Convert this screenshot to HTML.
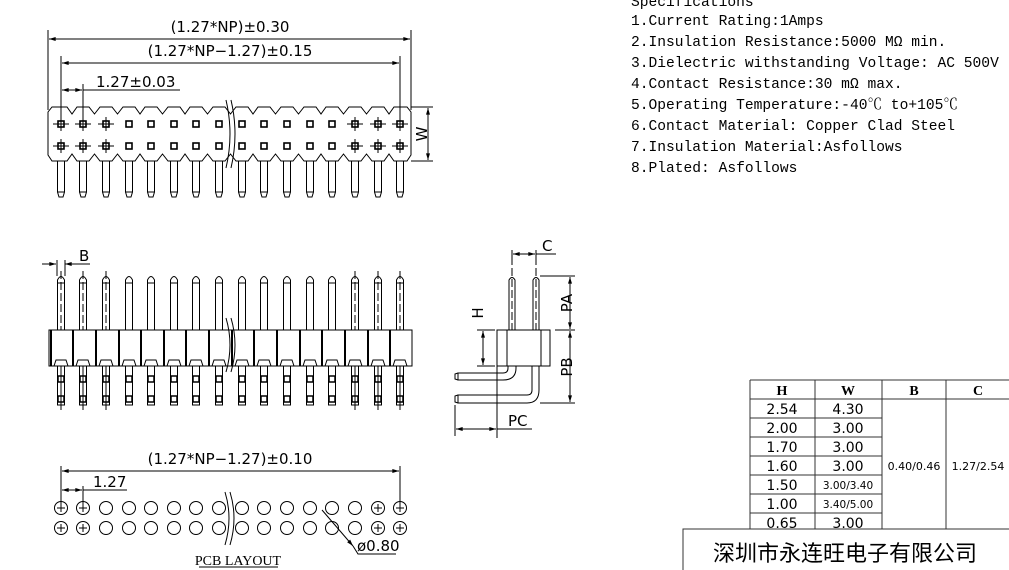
<!DOCTYPE html>
<html><head><meta charset="utf-8"><style>
html,body{margin:0;padding:0;background:#fff;width:1009px;height:570px;overflow:hidden}
svg{display:block}
text{fill:#000;stroke:none}
.t{font-family:"DejaVu Sans","Liberation Sans",sans-serif;font-size:15px;fill:#000}
.s{font-family:"Liberation Mono","Noto Serif CJK SC",monospace;font-size:14.6px;fill:#000}
</style></head><body>
<svg id="g" width="1009" height="570" viewBox="0 0 1009 570" xmlns="http://www.w3.org/2000/svg" fill="none" stroke="#000" stroke-width="1">
<defs>
<marker id="a" viewBox="0 0 10 6" refX="10" refY="3" markerWidth="8" markerHeight="4" orient="auto-start-reverse"><path d="M0,0L10,3L0,6z" fill="#000" stroke="none"/></marker>
</defs>
<line x1="48" y1="30" x2="48" y2="110"/><line x1="411" y1="30" x2="411" y2="110"/>
<line x1="49" y1="39" x2="410" y2="39" marker-start="url(#a)" marker-end="url(#a)"/>
<line x1="61" y1="56" x2="61" y2="120"/><line x1="400" y1="56" x2="400" y2="120"/>
<line x1="62" y1="63" x2="399" y2="63" marker-start="url(#a)" marker-end="url(#a)"/>
<line x1="83" y1="84" x2="83" y2="120"/>
<line x1="62" y1="90" x2="82" y2="90" marker-start="url(#a)" marker-end="url(#a)"/>
<line x1="83" y1="90" x2="180" y2="90"/>
<g stroke="none">
<text class="t" x="230" y="32" text-anchor="middle">(1.27*NP)±0.30</text>
<text class="t" x="230" y="56" text-anchor="middle">(1.27*NP−1.27)±0.15</text>
<text class="t" x="96" y="87">1.27±0.03</text>
<text class="t" x="427" y="134" font-size="8" transform="rotate(-90 427 134)" text-anchor="middle">W</text>
</g>
<line x1="411" y1="107" x2="433" y2="107"/><line x1="411" y1="161" x2="433" y2="161"/>
<line x1="428" y1="108" x2="428" y2="160" marker-start="url(#a)" marker-end="url(#a)"/>
<g id="top"></g>
<line x1="42" y1="264" x2="56" y2="264" marker-end="url(#a)"/>
<line x1="73" y1="264" x2="65" y2="264" marker-end="url(#a)"/>
<line x1="65" y1="264" x2="90" y2="264"/>
<line x1="57" y1="260" x2="57" y2="276"/><line x1="65" y1="260" x2="65" y2="276"/>
<text class="t" x="79" y="261">B</text>
<rect x="49" y="330" width="363" height="36"/>
<g id="side"></g>
<rect x="497" y="330" width="53" height="36"/>
<line x1="507" y1="330" x2="507" y2="366"/><line x1="541" y1="330" x2="541" y2="366"/>
<path d="M509,330V280Q512,275 515,280V330M533,330V280Q536,275 539,280V330"/>
<line x1="512" y1="268" x2="512" y2="330" stroke-dasharray="8,3"/>
<line x1="536" y1="268" x2="536" y2="330" stroke-dasharray="8,3"/>
<line x1="512" y1="250" x2="512" y2="265"/><line x1="536" y1="250" x2="536" y2="265"/>
<line x1="513" y1="254" x2="535" y2="254" marker-start="url(#a)" marker-end="url(#a)"/>
<line x1="536" y1="254" x2="556" y2="254"/>
<text class="t" x="542" y="251">C</text>
<line x1="540" y1="276" x2="575" y2="276"/><line x1="555" y1="330" x2="575" y2="330"/><line x1="540" y1="403" x2="575" y2="403"/>
<line x1="570" y1="277" x2="570" y2="329" marker-start="url(#a)" marker-end="url(#a)"/>
<line x1="570" y1="331" x2="570" y2="402" marker-start="url(#a)" marker-end="url(#a)"/>
<text class="t" x="572" y="303" transform="rotate(-90 572 303)" text-anchor="middle">PA</text>
<text class="t" x="572" y="367" transform="rotate(-90 572 367)" text-anchor="middle">PB</text>
<line x1="477" y1="330" x2="495" y2="330"/><line x1="477" y1="366" x2="495" y2="366"/>
<line x1="483" y1="331" x2="483" y2="365" marker-start="url(#a)" marker-end="url(#a)"/>
<text class="t" x="483" y="313" transform="rotate(-90 483 313)" text-anchor="middle">H</text>
<path d="M508,366V368Q508,373 503,373H458V380H503Q516,380 516,368V366"/>
<path d="M532,366V390Q532,395 527,395H458V403H527Q539,403 539,390V366"/>
<path d="M458,373L455,374V379L458,380M458,395L455,396V402L458,403"/>
<line x1="497" y1="366" x2="497" y2="438"/><line x1="455" y1="405" x2="455" y2="436"/>
<line x1="456" y1="429" x2="496" y2="429" marker-start="url(#a)" marker-end="url(#a)"/>
<line x1="497" y1="429" x2="532" y2="429"/>
<text class="t" x="508" y="426">PC</text>
<line x1="61" y1="466" x2="61" y2="505"/><line x1="400" y1="466" x2="400" y2="505"/>
<line x1="62" y1="471" x2="399" y2="471" marker-start="url(#a)" marker-end="url(#a)"/>
<line x1="83" y1="486" x2="83" y2="505"/>
<line x1="62" y1="490" x2="82" y2="490" marker-start="url(#a)" marker-end="url(#a)"/>
<line x1="83" y1="490" x2="127" y2="490"/>
<text class="t" x="230" y="464" text-anchor="middle">(1.27*NP−1.27)±0.10</text>
<text class="t" x="93" y="487">1.27</text>
<g id="pcb"></g>
<path d="M322,510L353,546" marker-end="url(#a)"/><path d="M353,546L358,554H396"/>
<text class="t" x="357" y="551">ø0.80</text>
<text x="238" y="565" text-anchor="middle" style="font-family:'Liberation Serif',serif;font-size:14px">PCB LAYOUT</text>
<line x1="199" y1="567" x2="278" y2="567"/>
<path d="M226,100Q234,134 226,168M231,100Q239,134 231,168"/>
<path d="M226,318Q234,345 226,372M231,318Q239,345 231,372"/>
<path d="M225,492Q233,518 225,545M230,492Q238,518 230,545"/>
<g class="s">
<text class="s" x="631" y="6">Specifications</text>
<text class="s" x="631" y="25">1.Current Rating:1Amps</text>
<text class="s" x="631" y="46">2.Insulation Resistance:5000 MΩ min.</text>
<text class="s" x="631" y="67">3.Dielectric withstanding Voltage: AC 500V</text>
<text class="s" x="631" y="88">4.Contact Resistance:30 mΩ max.</text>
<text class="s" x="631" y="109">5.Operating Temperature:-40℃ to+105℃</text>
<text class="s" x="631" y="130">6.Contact Material: Copper Clad Steel</text>
<text class="s" x="631" y="151">7.Insulation Material:Asfollows</text>
<text class="s" x="631" y="172">8.Plated: Asfollows</text>
</g>
<g stroke="#333">
<path d="M750,380H1009M750,399H1009M750,380V529M815,380V529M882,380V529M946,380V529"/>
<path d="M750,418H882M750,437H882M750,456H882M750,475H882M750,494H882M750,513H882"/>
<rect x="683" y="529" width="340" height="50"/>
</g>
<g style="font-family:'Liberation Serif',serif;font-weight:bold;font-size:14px" text-anchor="middle">
<text x="782" y="395">H</text><text x="848" y="395">W</text><text x="914" y="395">B</text><text x="978" y="395">C</text>
</g>
<g class="t" text-anchor="middle">
<text x="782" y="414" font-size="14">2.54</text><text x="848" y="414" font-size="14">4.30</text>
<text x="782" y="433" font-size="14">2.00</text><text x="848" y="433" font-size="14">3.00</text>
<text x="782" y="452" font-size="14">1.70</text><text x="848" y="452" font-size="14">3.00</text>
<text x="782" y="471" font-size="14">1.60</text><text x="848" y="471" font-size="14">3.00</text>
<text x="782" y="490" font-size="14">1.50</text><text x="848" y="489" font-size="10.5">3.00/3.40</text>
<text x="782" y="509" font-size="14">1.00</text><text x="848" y="508" font-size="10.5">3.40/5.00</text>
<text x="782" y="528" font-size="14">0.65</text><text x="848" y="528" font-size="14">3.00</text>
<text x="914" y="470" font-size="11">0.40/0.46</text><text x="978" y="470" font-size="11">1.27/2.54</text>
</g>
<text x="845" y="561" text-anchor="middle" style="font-family:'Liberation Sans','Noto Sans CJK SC',sans-serif;font-size:22px">深圳市永连旺电子有限公司</text>
</svg>
<script>
var NS="http://www.w3.org/2000/svg";
function add(id,tag,attrs){var e=document.createElementNS(NS,tag);for(var k in attrs)e.setAttribute(k,attrs[k]);document.getElementById(id).appendChild(e);}
var xs=[];for(var i=0;i<16;i++)xs.push(Math.round(60.7+22.63*i));
var end=function(i){return i<3||i>12;};
var d="M48,112L52,107";
for(var i=0;i<16;i++){var x=xs[i];d+="L"+(x-6)+",107L"+(x+6)+",107";if(i<15){var m=(x+xs[i+1])/2;d+="L"+m+",114";}}
d+="L407,107L411,112L411,155L407,161";
for(var i=15;i>=0;i--){var x=xs[i];d+="L"+(x+6)+",161L"+(x-6)+",161";if(i>0){var m=(x+xs[i-1])/2;d+="L"+m+",154";}}
d+="L52,161L48,155Z";
add("top","path",{d:d});
for(var i=0;i<16;i++){var x=xs[i];
 [124,146].forEach(function(y){add("top","rect",{x:x-3,y:y-3,width:6,height:6,"stroke-width":1.6});
  if(end(i)){add("top","line",{x1:x-8,y1:y,x2:x+8,y2:y});add("top","line",{x1:x,y1:y-7,x2:x,y2:y+7});}});
 add("top","path",{d:"M"+(x-3.5)+",161V192L"+(x-2)+",197H"+(x+2)+"L"+(x+3.5)+",192V161M"+(x-3.5)+",192H"+(x+3.5)});
 add("side","path",{d:"M"+(x-3.5)+",330V280Q"+x+",273 "+(x+3.5)+",280V330M"+(x-3.5)+",283H"+(x+3.5)});
 if(end(i)){add("side","line",{x1:x,y1:271,x2:x,y2:330,"stroke-dasharray":"8,3"});add("side","line",{x1:x,y1:366,x2:x,y2:410});}
 add("side","line",{x1:x-10,y1:330,x2:x-10,y2:366,"stroke-width":2});
 add("side","path",{d:"M"+(x-7)+",366L"+(x-5)+",360H"+(x+5)+"L"+(x+7)+",366"});
 add("side","path",{d:"M"+(x-3.5)+",366V405H"+(x+3.5)+"V366"});
 add("side","rect",{x:x-3,y:376,width:6,height:6,"stroke-width":1.5});
 add("side","rect",{x:x-3,y:396,width:6,height:6,"stroke-width":1.5});
 [508,528].forEach(function(y){add("pcb","circle",{cx:x,cy:y,r:6.5});
  if(end(i)&&!(i==2||i==13)){add("pcb","path",{d:"M"+(x-4)+","+y+"H"+(x+4)+"M"+x+","+(y-4)+"V"+(y+4)});}});
}
</script>
</body></html>
